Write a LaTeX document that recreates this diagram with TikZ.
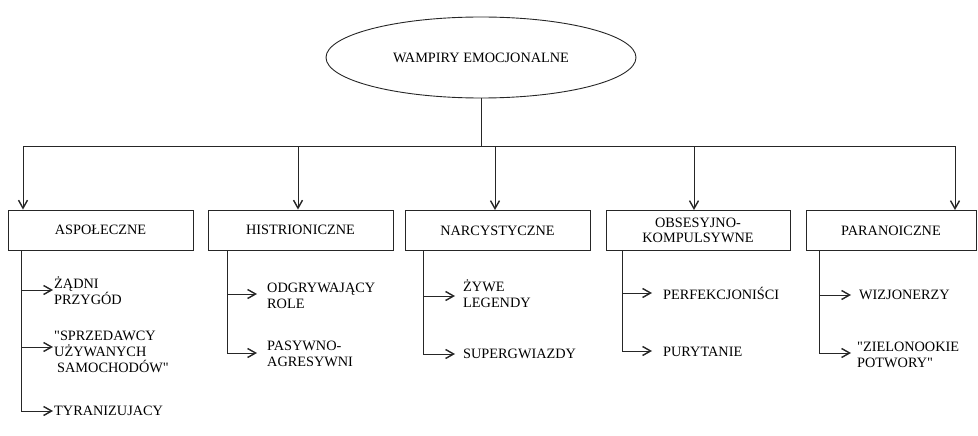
\documentclass[tikz,border=0pt]{standalone}
\usepackage{fontspec}
\setmainfont{Liberation Serif}
\usetikzlibrary{shapes.geometric,arrows.meta}
\tikzset{
  x=1pt,y=-1pt,
  ln/.style={draw=black!85,line width=0.9pt},
  arr/.style={ln,-{Straight Barb[length=8pt,width=9pt,line width=1.4pt]}},
  rootnode/.style={ellipse,ln,minimum width=310pt,minimum height=81pt,inner sep=0pt,font=\fontsize{14.3}{16}\selectfont},
  catbox/.style={rectangle,ln,minimum height=40pt,inner sep=0pt,align=center,font=\fontsize{14.3}{15.5}\selectfont},
  item/.style={anchor=west,inner sep=0pt,align=left,font=\fontsize{14.3}{16}\selectfont}
}
\begin{document}
\begin{tikzpicture}
\useasboundingbox (0,0) rectangle (978,436);
% root
\node[rootnode] (root) at (481,57.5) {WAMPIRY EMOCJONALNE};
% categories
\node[catbox,minimum width=185pt] (b1) at (100.5,230) {ASPOŁECZNE};
\node[catbox,minimum width=185pt] (b2) at (300.5,230) {HISTRIONICZNE};
\node[catbox,minimum width=185pt] (b3) at (497.5,230.5) {NARCYSTYCZNE};
\node[catbox,minimum width=184pt] (b4) at (698,230.5) {OBSESYJNO-\\KOMPULSYWNE};
\node[catbox,minimum width=170pt] (b5) at (891,230.5) {PARANOICZNE};
% bus
\coordinate (bus) at (481,146);
\coordinate (h1) at (23,146);
\coordinate (h2) at (298,146);
\coordinate (h3) at (495,146);
\coordinate (h4) at (694,146);
\coordinate (h5) at (955,146);
\draw[ln] (root.south) -- (bus);
\draw[ln] (h1) -- (h5);
\draw[arr] (h1) -- (h1 |- b1.north);
\draw[arr] (h2) -- (h2 |- b2.north);
\draw[arr] (h3) -- (h3 |- b3.north);
\draw[arr] (h4) -- (h4 |- b4.north);
\draw[arr] (h5) -- (h5 |- b5.north);
% items column 1
\node[item] (t11) at (54,290.5) {ŻĄDNI\\PRZYGÓD};
\node[item] (t12) at (54,352) {\textquotedbl SPRZEDAWCY\\UŻYWANYCH\\\hspace*{3pt}SAMOCHODÓW\textquotedbl};
\node[item] (t13) at (54,411) {TYRANIZUJACY};
\coordinate (v11) at (21,290);
\coordinate (v12) at (21,347);
\coordinate (v13) at (21,411);
\draw[ln] (v11 |- b1.south) -- (v13);
\draw[arr] (v11) -- ([xshift=-1pt]v11 -| t11.west);
\draw[arr] (v12) -- ([xshift=-1pt]v12 -| t12.west);
\draw[arr] (v13) -- ([xshift=-1pt]v13 -| t13.west);
% items column 2
\node[item] (t21) at (267,295.5) {ODGRYWAJĄCY\\ROLE};
\node[item] (t22) at (267,353.5) {PASYWNO-\\AGRESYWNI};
\coordinate (v21) at (227,294);
\coordinate (v22) at (227,353);
\draw[ln] (v21 |- b2.south) -- (v22);
\draw[arr] (v21) -- ([xshift=-10pt]v21 -| t21.west);
\draw[arr] (v22) -- ([xshift=-10pt]v22 -| t22.west);
% items column 3
\node[item] (t31) at (463,294) {ŻYWE\\LEGENDY};
\node[item] (t32) at (463,354) {SUPERGWIAZDY};
\coordinate (v31) at (423,296);
\coordinate (v32) at (423,354);
\draw[ln] (v31 |- b3.south) -- (v32);
\draw[arr] (v31) -- ([xshift=-8pt]v31 -| t31.west);
\draw[arr] (v32) -- ([xshift=-8pt]v32 -| t32.west);
% items column 4
\node[item] (t41) at (663,293) {PERFEKCJONIŚCI};
\node[item] (t42) at (663,352) {PURYTANIE};
\coordinate (v41) at (622,293);
\coordinate (v42) at (622,351);
\draw[ln] (v41 |- b4.south) -- (v42);
\draw[arr] (v41) -- ([xshift=-11pt]v41 -| t41.west);
\draw[arr] (v42) -- ([xshift=-11pt]v42 -| t42.west);
% items column 5
\node[item] (t51) at (859,295) {WIZJONERZY};
\node[item] (t52) at (857,355) {\textquotedbl ZIELONOOKIE\\POTWORY\textquotedbl};
\coordinate (v51) at (819,295);
\coordinate (v52) at (819,353);
\draw[ln] (v51 |- b5.south) -- (v52);
\draw[arr] (v51) -- ([xshift=-8pt]v51 -| t51.west);
\draw[arr] (v52) -- ([xshift=-6pt]v52 -| t52.west);
\end{tikzpicture}
\end{document}
